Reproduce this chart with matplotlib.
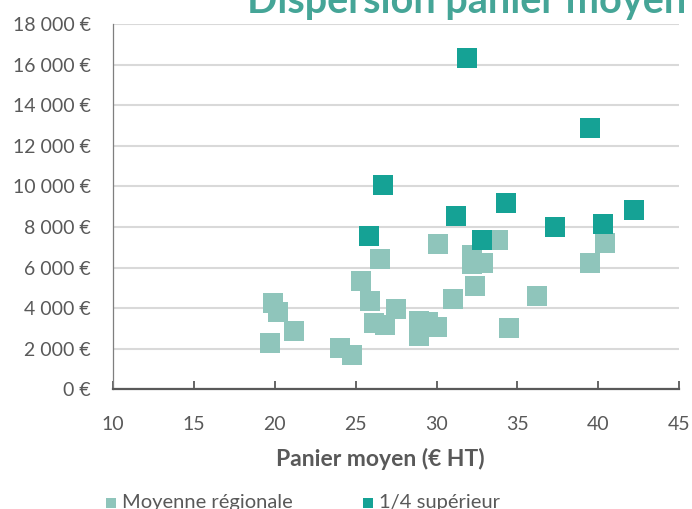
import matplotlib
matplotlib.use("Agg")
import matplotlib.pyplot as plt
from matplotlib.ticker import FuncFormatter

# ---- data ----
# Moyenne régionale (light squares)
reg_panier = [19.9, 20.2, 21.2, 19.7, 24.0, 24.8, 25.3, 25.9, 26.1, 26.8,
              26.5, 27.5, 28.9, 28.9, 29.5, 30.0, 30.1, 31.0, 32.2, 32.2,
              32.9, 32.4, 33.8, 34.5, 36.2, 39.5, 40.4]
reg_ca = [4260, 3810, 2870, 2280, 2030, 1690, 5340, 4360, 3270, 3170,
          6430, 3960, 3370, 2630, 3320, 3070, 7170, 4450, 6630, 6180,
          6230, 5100, 7370, 3020, 4600, 6230, 7220]

# 1/4 supérieur (dark squares)
sup_panier = [25.8, 26.7, 31.2, 31.9, 32.8, 34.3, 37.3, 39.5, 40.3, 42.2]
sup_ca = [7560, 10080, 8550, 16310, 7370, 9170, 8010, 12860, 8160, 8850]

series_labels = ["Moyenne régionale", "1/4 supérieur"]
x_ticks = [10, 15, 20, 25, 30, 35, 40, 45]
y_ticks = [0, 2000, 4000, 6000, 8000, 10000, 12000, 14000, 16000, 18000]

light = "#8fc5bb"
dark = "#15a295"
grey = "#595959"

plt.rcParams["font.family"] = ["Lato", "DejaVu Sans"]

fig = plt.figure(figsize=(6.92, 5.09), dpi=100)
ax = fig.add_axes([0.1637, 0.2352, 0.9812 - 0.1637, 0.9528 - 0.2352])

ax.scatter(reg_panier, reg_ca, marker="s", s=228, color=light, linewidths=0,
           label=series_labels[0], zorder=3)
ax.scatter(sup_panier, sup_ca, marker="s", s=228, color=dark, linewidths=0,
           label=series_labels[1], zorder=4)

ax.set_xlim(10, 45)
ax.set_ylim(0, 18000)
ax.set_xticks(x_ticks)
ax.set_yticks(y_ticks)
ax.yaxis.set_major_formatter(FuncFormatter(lambda v, p: f"{int(v):,} €".replace(",", " ")))

ax.grid(axis="y", color="#d9d9d9", linewidth=1.5, zorder=0)
ax.set_axisbelow(True)
for s in ["top", "right"]:
    ax.spines[s].set_visible(False)
ax.spines["left"].set_color("#7f7f7f")
ax.spines["left"].set_linewidth(0.9)
ax.spines["bottom"].set_color(grey)
ax.spines["bottom"].set_linewidth(1.6)

ax.tick_params(axis="x", direction="in", length=6, width=1.3, color=grey,
               labelsize=14, labelcolor=grey, pad=19)
ax.tick_params(axis="y", length=0, labelsize=14, labelcolor=grey, pad=16)

ax.set_xlabel("Panier moyen (€ HT)", fontsize=16.5, fontweight="bold", color=grey)
ax.xaxis.set_label_coords(0.472, -0.16)

fig.text(686 / 692, 1 - 13 / 509, "Dispersion panier moyen", ha="right", va="baseline",
         fontsize=28.5, fontweight="bold", color="#45a597")

fig.legend(loc="center left", bbox_to_anchor=(0.135, 0.012), ncol=2, frameon=False,
           fontsize=14.5, labelcolor=grey, markerscale=0.5, handletextpad=0.1,
           columnspacing=3.3, handlelength=0.9, borderaxespad=0)

fig.savefig("out.png", dpi=100)
